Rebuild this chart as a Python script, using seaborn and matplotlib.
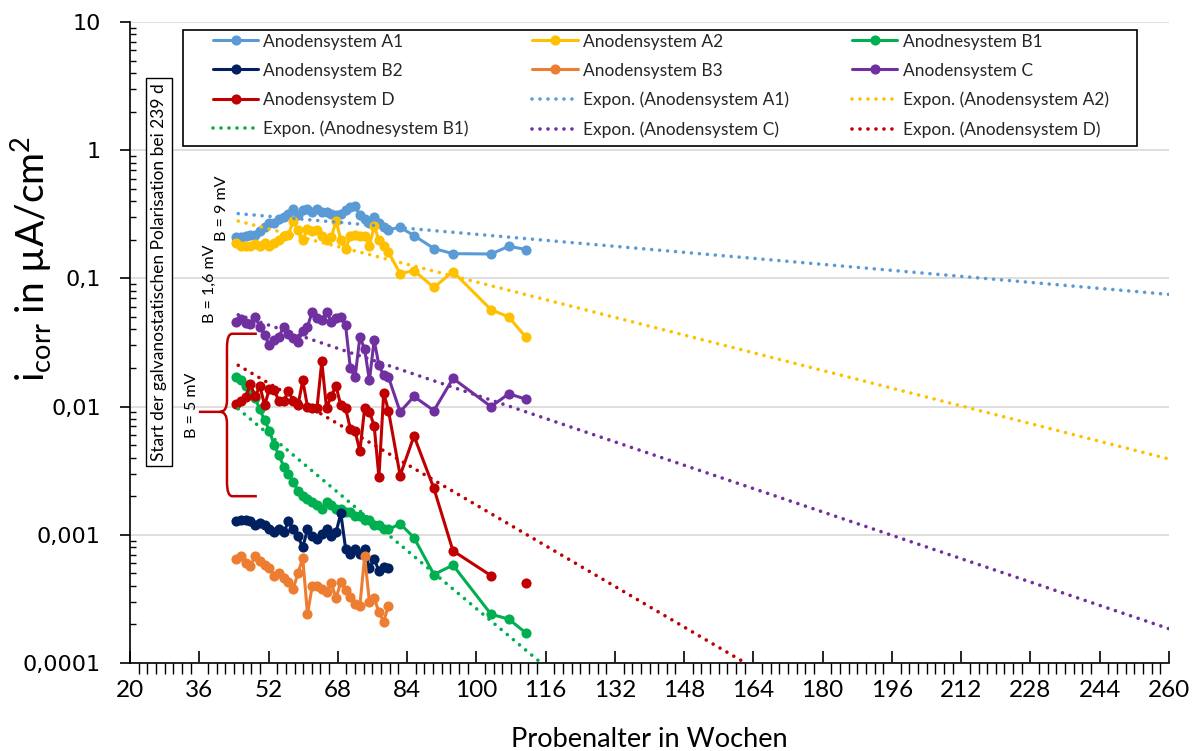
import numpy as np
import pandas as pd
import matplotlib
matplotlib.use("Agg")
import matplotlib.pyplot as plt
from matplotlib.lines import Line2D
from matplotlib.path import Path
from matplotlib.patches import PathPatch, Rectangle
from matplotlib.ticker import MultipleLocator, LogLocator, NullFormatter
import seaborn as sns

sns.set_theme(style="ticks")
plt.rcParams["font.family"] = ["Lato", "DejaVu Sans"]
plt.rcParams["mathtext.fontset"] = "custom"
plt.rcParams["mathtext.rm"] = "Lato"

# %% data
weeks_dense = [44.5, 45.6, 46.7, 47.8, 48.9, 50.0, 51.1, 52.2, 53.3, 54.4, 55.5,
               56.6, 57.7, 58.8, 59.9, 61.0, 62.1, 63.2, 64.3, 65.4, 66.5, 67.6,
               68.7, 69.8, 70.9, 72.0, 73.1, 74.2, 75.3, 76.4, 77.5, 78.6, 79.7]
weeks_late = [82.4, 85.6, 90.2, 94.6, 103.4, 107.5, 111.5]

a1 = [0.21, 0.21, 0.215, 0.22, 0.22, 0.235, 0.25, 0.27, 0.27, 0.29, 0.30,
      0.32, 0.35, 0.31, 0.34, 0.35, 0.33, 0.35, 0.33, 0.33, 0.32, 0.31,
      0.32, 0.34, 0.36, 0.37, 0.31, 0.29, 0.27, 0.30, 0.27, 0.25, 0.24,
      0.25, 0.216, 0.171, 0.156, 0.155, 0.178, 0.168]
a2 = [0.19, 0.18, 0.18, 0.18, 0.185, 0.18, 0.19, 0.18, 0.19, 0.20, 0.215,
      0.22, 0.28, 0.24, 0.20, 0.245, 0.235, 0.24, 0.215, 0.20, 0.21, 0.28,
      0.20, 0.17, 0.215, 0.22, 0.215, 0.215, 0.18, 0.255, 0.20, 0.18, 0.16,
      0.109, 0.115, 0.085, 0.113, 0.057, 0.050, 0.0346]
b1 = [0.017, 0.016, 0.0145, 0.0127, 0.0116, 0.0095, 0.0078, 0.0065, 0.005, 0.0042, 0.0034,
      0.0030, 0.0026, 0.0022, 0.0020, 0.0019, 0.0018, 0.0017, 0.0016, 0.0018, 0.0017, 0.0016,
      0.0016, 0.0015, 0.0015, 0.0014, 0.0014, 0.0013, 0.0013, 0.0012, 0.0012, 0.0011, 0.0011,
      0.00122, 0.00095, 0.00049, 0.00058, 0.00024, 0.00022, 0.000171]
b2 = [0.00128, 0.0013, 0.0013, 0.00127, 0.0012, 0.00124, 0.0012, 0.0011, 0.00105, 0.0011, 0.00105,
      0.00127, 0.0011, 0.00097, 0.0008, 0.0011, 0.00097, 0.00093, 0.00102, 0.0011, 0.00097, 0.00105,
      0.00147, 0.00078, 0.00071, 0.00078, 0.00071, 0.00078, 0.00055, 0.00065, 0.00052, 0.00056, 0.00055]
b3 = [0.00065, 0.00068, 0.0006, 0.00057, 0.00068, 0.00062, 0.00058, 0.00055, 0.00048, 0.0005, 0.00046,
      0.00043, 0.00038, 0.0005, 0.00066, 0.00024, 0.0004, 0.0004, 0.00038, 0.00036, 0.00042, 0.00032,
      0.00043, 0.00037, 0.00033, 0.00029, 0.00028, 0.00068, 0.0003, 0.00032, 0.00025, 0.00021, 0.00028]
c = [0.046, 0.048, 0.045, 0.044, 0.050, 0.042, 0.036, 0.030, 0.033, 0.035, 0.042,
     0.037, 0.034, 0.032, 0.039, 0.042, 0.055, 0.049, 0.047, 0.055, 0.046, 0.049,
     0.050, 0.043, 0.020, 0.017, 0.035, 0.028, 0.016, 0.033, 0.021, 0.0175, 0.017,
     0.0091, 0.012, 0.0093, 0.0166, 0.010, 0.0126, 0.0114]
d = [0.0105, 0.011, 0.0118, 0.015, 0.012, 0.0145, 0.0102, 0.0138, 0.0135, 0.011, 0.011,
     0.0133, 0.011, 0.0102, 0.016, 0.010, 0.0097, 0.0098, 0.0225, 0.0097, 0.0122, 0.0144,
     0.0102, 0.0097, 0.0067, 0.0064, 0.0045, 0.0097, 0.0091, 0.0071, 0.0028, 0.0128, 0.0093,
     0.0029, 0.0059, 0.0023, 0.00075, 0.00048, np.nan, 0.00042]

# exponential trend lines: start and end values
trend_weeks = [45, 260]
trend_a1 = [0.32, 0.075]
trend_a2 = [0.28, 0.0039]
trend_b1 = [0.0096, 7.8e-9]
trend_c = [0.052, 0.000185]
trend_d = [0.021, 1.15e-6]

weeks_all = weeks_dense + weeks_late

series = [
    ("Anodensystem A1", a1, "#5B9BD5"),
    ("Anodensystem A2", a2, "#FFC000"),
    ("Anodnesystem B1", b1, "#00B050"),
    ("Anodensystem B2", b2, "#002060"),
    ("Anodensystem B3", b3, "#ED7D31"),
    ("Anodensystem C", c, "#7030A0"),
    ("Anodensystem D", d, "#C00000"),
]
trends = [
    ("Expon. (Anodensystem A1)", trend_a1, "#5B9BD5"),
    ("Expon. (Anodensystem A2)", trend_a2, "#FFC000"),
    ("Expon. (Anodnesystem B1)", trend_b1, "#00B050"),
    ("Expon. (Anodensystem C)", trend_c, "#7030A0"),
    ("Expon. (Anodensystem D)", trend_d, "#C00000"),
]

DOT = (0, (0.01, 2.2))

# %% plot
fig = plt.figure(figsize=(11.97, 7.51), dpi=100)
ax = fig.add_axes([130 / 1197, 1 - 663 / 751, 1039 / 1197, 641 / 751])
ax.set_yscale("log")

for label, vals, col in series:
    df = pd.DataFrame({"week": weeks_all[:len(vals)], "icorr": vals})
    df["seg"] = df["icorr"].isna().cumsum()
    df = df.dropna()
    sns.lineplot(data=df, x="week", y="icorr", units="seg", estimator=None,
                 color=col, marker="o", markersize=7.3, markeredgewidth=0,
                 linewidth=2.2, ax=ax, legend=False, zorder=3)

for label, vals, col in trends:
    sns.lineplot(x=trend_weeks, y=vals, color=col, linestyle=DOT,
                 dash_capstyle="round", linewidth=2.6, ax=ax, legend=False,
                 zorder=4)

ax.set_xlim(20, 260)
ax.set_ylim(1e-4, 10)
ax.set_xticks(np.arange(20, 261, 16))
ax.xaxis.set_minor_locator(MultipleLocator(2))
ytick_vals = [1e-4, 1e-3, 1e-2, 1e-1, 1, 10]
ytick_labels = ["0,0001", "0,001", "0,01", "0,1", "1", "10"]
ax.set_yticks(ytick_vals)
ax.set_yticklabels(ytick_labels)
ax.yaxis.set_minor_locator(LogLocator(base=10, subs=np.arange(2, 10)))
ax.yaxis.set_minor_formatter(NullFormatter())

ax.tick_params(axis="x", which="major", direction="in", length=9, width=1.2,
               labelsize=17.5, pad=12, colors="black")
ax.tick_params(axis="x", which="minor", direction="out", length=8, width=1,
               colors="black")
ax.tick_params(axis="y", which="major", direction="out", length=7, width=1.2,
               labelsize=16, pad=14, colors="black")
ax.tick_params(axis="y", which="minor", direction="in", length=4, width=1,
               colors="black")
for lbl in ax.get_yticklabels():
    lbl.set_fontfamily("DejaVu Sans")

ax.yaxis.grid(True, which="major", color="#D9D9D9", linewidth=1.2)
ax.set_axisbelow(True)
for side in ["top", "right"]:
    ax.spines[side].set_visible(False)
for side in ["left", "bottom"]:
    ax.spines[side].set_color("black")
    ax.spines[side].set_linewidth(1.2)

ax.set_xlabel("Probenalter in Wochen", fontsize=19.5, color="black")
ax.set_ylabel(r"i$_{\mathregular{corr}}$ in µA/cm$^{\mathregular{2}}$",
              fontsize=28, color="black")
ax.yaxis.set_label_coords(-0.072, 0.63)
ax.xaxis.set_label_coords(0.5, -0.1)

# annotations
ax.text(0.028, 0.61, "Start der galvanostatischen Polarisation bei 239 d",
        transform=ax.transAxes, rotation=90, ha="center", va="center",
        fontsize=12.5, color="black",
        bbox=dict(boxstyle="square,pad=0.3", fc="white", ec="black", lw=1))
ax.text(41.3, 0.35, "B = 9 mV", rotation=90, ha="center", va="center",
        fontsize=11.5, color="black")
ax.text(38.5, 0.091, "B = 1,6 mV", rotation=90, ha="center", va="center",
        fontsize=11.5, color="black")
ax.text(34.3, 0.0102, "B = 5 mV", rotation=90, ha="center", va="center",
        fontsize=11.5, color="black")

# red curly brace
xv, xr, xt = 42.4, 49.3, 35.9
ytop, ymid, ybot = 0.037, 0.0091, 0.0020
verts = [(xr, ytop), (43.6, ytop), (xv, ytop), (xv, 0.029),
         (xv, 0.0112), (xv, ymid), (40.8, ymid), (xt, ymid),
         (40.8, ymid), (xv, ymid), (xv, 0.0074),
         (xv, 0.0026), (xv, ybot), (43.6, ybot), (xr, ybot)]
codes = [Path.MOVETO, Path.LINETO, Path.CURVE3, Path.CURVE3,
         Path.LINETO, Path.CURVE3, Path.CURVE3, Path.LINETO,
         Path.MOVETO, Path.CURVE3, Path.CURVE3,
         Path.LINETO, Path.CURVE3, Path.CURVE3, Path.LINETO]
ax.add_patch(PathPatch(Path(verts, codes), fill=False, edgecolor="#C00000",
                       linewidth=1.8, zorder=5))

# legend in row-major order like the original, with a separate frame box
items = [Line2D([], [], color=col, marker="o", markersize=7.3, markeredgewidth=0,
                linewidth=2.2, label=label) for label, _, col in series]
items += [Line2D([], [], color=col, linestyle=DOT, dash_capstyle="round",
                 linewidth=2.6, label=label) for label, _, col in trends]
ncol = 3
nrow = int(np.ceil(len(items) / ncol))
ordered = [items[r * ncol + k] for k in range(ncol) for r in range(nrow)
           if r * ncol + k < len(items)]
ax.add_patch(Rectangle((0.051, 0.8066), 0.918, 0.1809, transform=ax.transAxes,
                       fc="white", ec="black", lw=1.2, zorder=9))
leg = ax.legend(handles=ordered, ncol=ncol, loc="upper left",
                bbox_to_anchor=(0.0799, 0.982, 0.862, 0.0), mode="expand",
                frameon=False, fontsize=12.5, handlelength=2.6,
                handletextpad=0.3, borderaxespad=0, borderpad=0,
                labelspacing=0.75)
leg.set_zorder(10)

fig.savefig("out.png", dpi=100)
